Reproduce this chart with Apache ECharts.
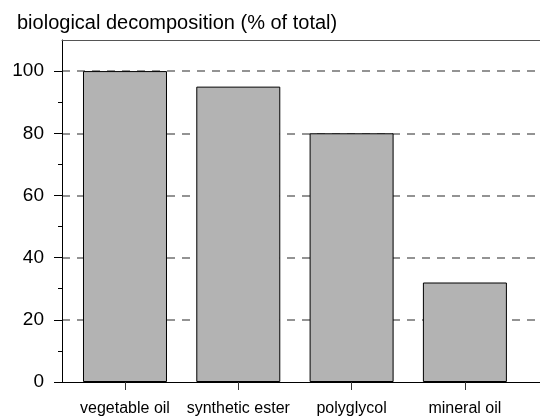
<!DOCTYPE html>
<html>
<head>
  <meta charset="utf-8" />
  <title>biological decomposition</title>
  <script src="https://cdn.jsdelivr.net/npm/echarts@6/dist/echarts.min.js"></script>
  <style>
    html, body { margin: 0; padding: 0; background: #fff; }
    #chart-main { width: 540px; height: 419px; }
  </style>
</head>
<body>
<div id="chart-main"></div>
<script type="text/javascript">
var categories = ['vegetable oil', 'synthetic ester', 'polyglycol', 'mineral oil'];
var decomposition = [100, 95, 80, 32];
var yTicks = [0, 20, 40, 60, 80, 100];
var yMinorTicks = [10, 30, 50, 70, 90];

var myChart = echarts.init(document.getElementById('chart-main'));

var barData = categories.map(function (name, i) {
  return [i, decomposition[i]];
});
var catIdx = categories.map(function (name, i) { return i; });

var font = 'Liberation Sans, Arial, sans-serif';
var black = { show: true, onZero: false, lineStyle: { color: '#000', width: 1 } };
var xMin = -0.556, xMax = -0.556 + 478 / 113.3;

var option = {
  backgroundColor: '#fff',
  animation: false,
  title: {
    text: 'biological decomposition (% of total)',
    left: 12, top: 8,
    textStyle: { fontFamily: font, fontSize: 20, fontWeight: 'normal', color: '#000' }
  },
  grid: { left: 62, top: 40, right: 0, bottom: 37 },
  xAxis: [{
    type: 'value',
    min: xMin, max: xMax,
    axisLine: black,
    axisTick: { show: true, customValues: catIdx, length: 8, lineStyle: { color: '#333' } },
    axisLabel: {
      customValues: catIdx, margin: 19, color: '#000', fontFamily: font, fontSize: 16,
      formatter: function (v) { return categories[Math.round(v)]; }
    },
    splitLine: { show: false }
  }, {
    // top frame line only
    type: 'value',
    position: 'top',
    min: xMin, max: xMax,
    axisLine: { show: true, onZero: false, lineStyle: { color: '#555', width: 1 } },
    axisTick: { show: false },
    axisLabel: { show: false },
    splitLine: { show: false }
  }],
  yAxis: [{
    type: 'value',
    min: 0, max: 110, interval: 20,
    axisLine: black,
    axisTick: { show: true, customValues: yTicks, length: 8, lineStyle: { color: '#000' } },
    axisLabel: { customValues: yTicks, margin: 18, color: '#000', fontFamily: font, fontSize: 19 },
    splitLine: {
      show: true, showMinLine: false,
      lineStyle: { type: [8, 7], color: '#707070', width: 1.5 }
    }
  }, {
    type: 'value',
    position: 'left',
    min: 0, max: 110,
    axisLine: { show: false, onZero: false },
    axisTick: { show: true, customValues: yMinorTicks, length: 4, lineStyle: { color: '#000' } },
    axisLabel: { show: false },
    splitLine: { show: false }
  }],
  series: [{
    type: 'bar',
    xAxisIndex: 0,
    yAxisIndex: 0,
    barWidth: 84,
    data: barData,
    itemStyle: { color: '#b3b3b3', borderColor: '#000', borderWidth: 1 }
  }]
};

myChart.setOption(option);
</script>
</body>
</html>
